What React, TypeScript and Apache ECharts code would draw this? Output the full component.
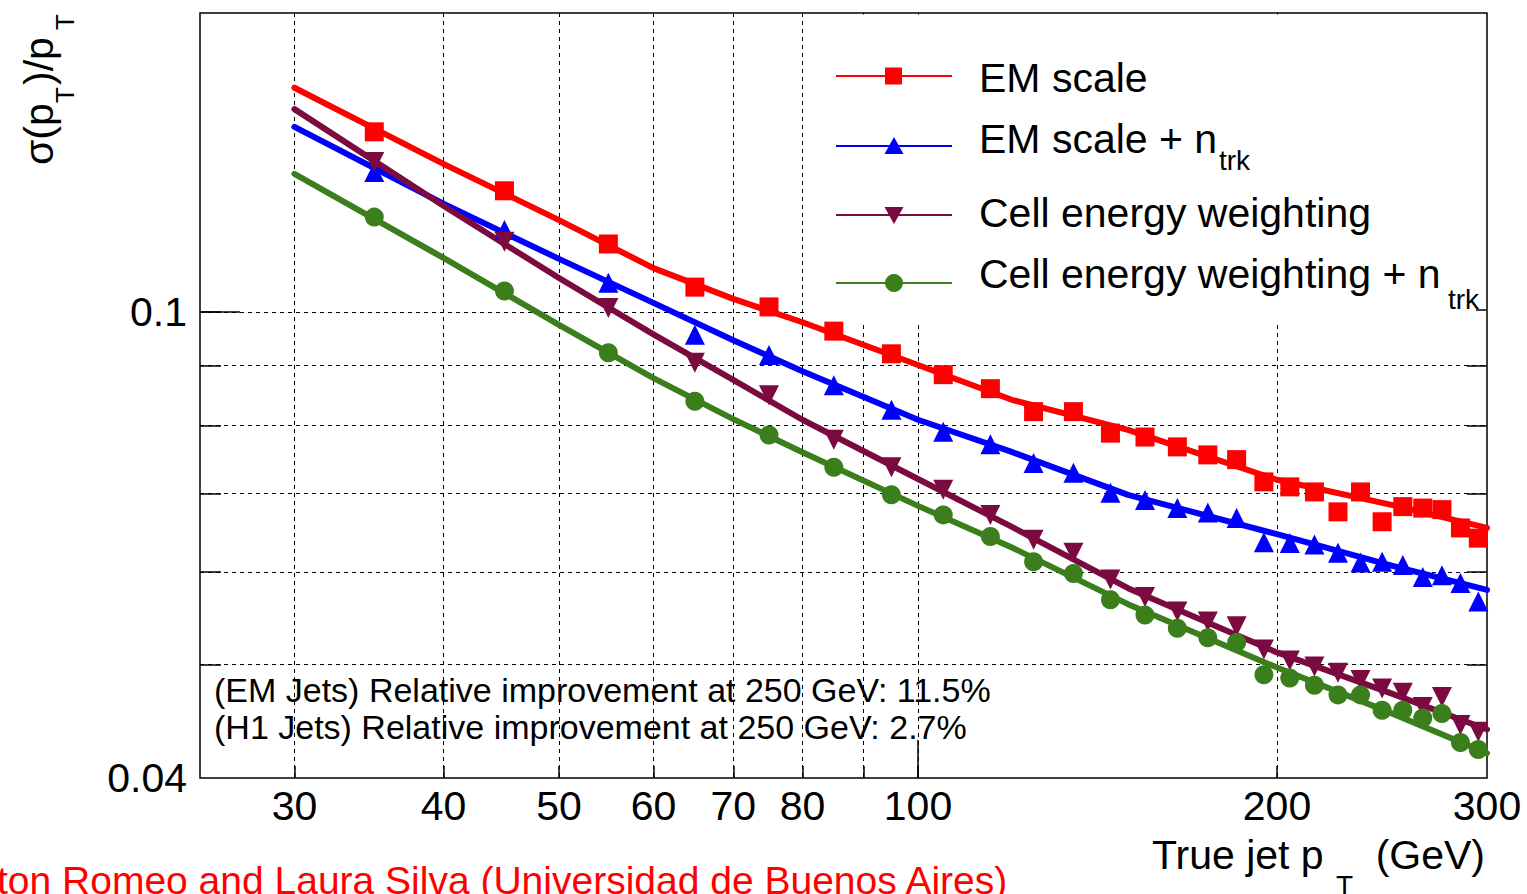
import React, { useEffect, useRef } from "react";
import * as echarts from "echarts";

// ---- data ----
const ptBins = [35, 45, 55, 65, 75, 85, 95, 105, 115, 125, 135, 145, 155, 165, 175, 185, 195, 205, 215, 225, 235, 245, 255, 265, 275, 285, 295];
const emScale = [0.1425, 0.1269, 0.1143, 0.1050, 0.1010, 0.0963, 0.0921, 0.0884, 0.0860, 0.0822, 0.0822, 0.0788, 0.0782, 0.0767, 0.0755, 0.0748, 0.0716, 0.0709, 0.0702, 0.0675, 0.0702, 0.0662, 0.0682, 0.0680, 0.0678, 0.0654, 0.0641];
const emScaleNtrk = [0.1317, 0.1175, 0.1059, 0.0956, 0.0919, 0.0866, 0.0825, 0.0790, 0.0771, 0.0743, 0.0729, 0.0701, 0.0691, 0.0680, 0.0674, 0.0667, 0.0636, 0.0635, 0.0633, 0.0623, 0.0611, 0.0612, 0.0608, 0.0594, 0.0596, 0.0587, 0.0566];
const cellWeighting = [0.1343, 0.1148, 0.1008, 0.0905, 0.0849, 0.0778, 0.0737, 0.0705, 0.0671, 0.0639, 0.0623, 0.0591, 0.0571, 0.0555, 0.0544, 0.0539, 0.0515, 0.0504, 0.0498, 0.0492, 0.0485, 0.0477, 0.0473, 0.0460, 0.0469, 0.0444, 0.0438];
const cellWeightingNtrk = [0.1205, 0.1042, 0.0923, 0.0839, 0.0785, 0.0737, 0.0698, 0.0671, 0.0643, 0.0612, 0.0598, 0.0568, 0.0551, 0.0537, 0.0527, 0.0522, 0.0490, 0.0487, 0.0480, 0.0471, 0.0471, 0.0457, 0.0457, 0.0450, 0.0454, 0.0429, 0.0423];

const fitPt = [30, 40, 50, 60, 70, 80, 100, 120, 150, 200, 250, 300];
const emScaleFit = [0.1554, 0.1338, 0.1198, 0.1090, 0.1026, 0.0980, 0.0901, 0.0841, 0.0793, 0.0719, 0.0684, 0.0654];
const emScaleNtrkFit = [0.1439, 0.1237, 0.1110, 0.1018, 0.0946, 0.0890, 0.0809, 0.0759, 0.0698, 0.0646, 0.0607, 0.0579];
const cellWeightingFit = [0.1490, 0.1232, 0.1069, 0.0957, 0.0875, 0.0809, 0.0720, 0.0655, 0.0581, 0.0512, 0.0472, 0.0440];
const cellWeightingNtrkFit = [0.1312, 0.1112, 0.0975, 0.0878, 0.0810, 0.0759, 0.0683, 0.0629, 0.0563, 0.0497, 0.0454, 0.0420];

const xRange = [25, 300];
const yRange = [0.04, 0.18];
const xTickValues = [30, 40, 50, 60, 70, 80, 90, 100, 200];
const xMajorTicks = [100];
const xLabelValues = [30, 40, 50, 60, 70, 80, 100, 200, 300];
const yTickValues = [0.05, 0.06, 0.07, 0.08, 0.09, 0.1];
const yMajorTicks = [0.1];
const yLabelValues = [0.04, 0.1];

const seriesNames = ["EM scale", "EM scale + n", "Cell energy weighting", "Cell energy weighting + n"];
const annotations = [
  "(EM Jets) Relative improvement at 250 GeV: 11.5%",
  "(H1 Jets) Relative improvement at 250 GeV: 2.7%",
];
const credit = "ton Romeo and Laura Silva (Universidad de Buenos Aires)";

const RED = "#ff0000";
const BLUE = "#0000ff";
const MAROON = "#7b0a40";
const GREEN = "#3a7f1c";
const FONT = "'Liberation Sans', Arial, Helvetica, sans-serif";

const lg = (v: number) => Math.log10(v);
const pts = (xs: number[], ys: number[]) => xs.map((x, i) => [lg(x), lg(ys[i])]);

const tickStyle = { color: "#000", width: 1.5 };

function txt(text: string, x: number, y: number, size: number, opts: any = {}) {
  return {
    type: "text",
    x,
    y,
    z: 6,
    style: {
      text,
      fontSize: size,
      fontFamily: FONT,
      fill: opts.fill || "#000",
      align: opts.align || "left",
      textAlign: opts.align || "left",
      verticalAlign: "middle",
      textVerticalAlign: "middle",
    },
  };
}

function buildOption() {
  const xMin = lg(xRange[0]);
  const xMax = lg(xRange[1]);
  const yMin = lg(yRange[0]);
  const yMax = lg(yRange[1]);

  const fitLine = (name: string, ys: number[], color: string) => ({
    name,
    type: "line",
    data: pts(fitPt, ys),
    showSymbol: false,
    symbol: "none",
    smooth: false,
    lineStyle: { color, width: 6, join: "round", cap: "round" },
    itemStyle: { color },
    z: 2,
  });
  const markers = (name: string, ys: number[], color: string, symbol: string, size: number, rotate = 0) => ({
    name,
    type: "scatter",
    data: pts(ptBins, ys),
    symbol,
    symbolSize: size,
    symbolRotate: rotate,
    itemStyle: { color, opacity: 1 },
    z: 3,
  });

  const legendRows = [
    { y: 76, color: RED },
    { y: 146, color: BLUE },
    { y: 215, color: MAROON },
    { y: 283, color: GREEN },
  ];
  const legendElems: any[] = [
    { type: "rect", z: 1, shape: { x: 808, y: 14.5, width: 678, height: 307 }, style: { fill: "#fff" } },
    { type: "line", z: 5, shape: { x1: 1476, y1: 310, x2: 1486.5, y2: 310 }, style: { stroke: "#000", lineWidth: 1.5 } },
  ];
  legendRows.forEach((r) => {
    legendElems.push({ type: "line", z: 5, shape: { x1: 836, y1: r.y, x2: 952, y2: r.y }, style: { stroke: r.color, lineWidth: 2 } });
  });
  legendElems.push({ type: "rect", z: 6, shape: { x: 885, y: 67.5, width: 17, height: 17 }, style: { fill: RED } });
  legendElems.push({ type: "polygon", z: 6, shape: { points: [[894, 137], [903.5, 154], [884.5, 154]] }, style: { fill: BLUE } });
  legendElems.push({ type: "polygon", z: 6, shape: { points: [[884.5, 207], [903.5, 207], [894, 224]] }, style: { fill: MAROON } });
  legendElems.push({ type: "circle", z: 6, shape: { cx: 894, cy: 283, r: 9 }, style: { fill: GREEN } });

  legendElems.push(txt(seriesNames[0], 979, 78, 41));
  legendElems.push(txt(seriesNames[1], 979, 139, 41));
  legendElems.push(txt("trk", 1219, 160, 28));
  legendElems.push(txt(seriesNames[2], 979, 213, 41));
  legendElems.push(txt(seriesNames[3], 979, 274, 41));
  legendElems.push(txt("trk", 1448, 299, 28));

  const otherTexts: any[] = [
    txt(annotations[0], 214, 690, 34),
    txt(annotations[1], 214, 727, 34),
    txt("True jet p", 1152, 855, 41),
    txt("T", 1336, 885, 28),
    txt("(GeV)", 1485, 855, 41, { align: "right" }),
    txt(credit, -3, 880, 39, { fill: RED }),
    {
      type: "group",
      x: 39,
      y: 165,
      rotation: Math.PI / 2,
      children: [
        txt("\u03c3(p", 0, 0, 41),
        txt("T", 62, 26, 26),
        txt(")/p", 80, 0, 41),
        txt("T", 135, 26, 26),
      ],
    },
  ];

  return {
    animation: false,
    backgroundColor: "#ffffff",
    grid: {
      left: 200,
      right: 40,
      top: 13,
      bottom: 116,
      show: true,
      borderColor: "#000",
      borderWidth: 1.5,
      backgroundColor: "transparent",
    },
    xAxis: [
      {
        type: "value",
        min: xMin,
        max: xMax,
        position: "bottom",
        axisLine: { show: false },
        axisTick: { show: true, inside: true, length: 12, customValues: xTickValues.map(lg), lineStyle: tickStyle },
        axisLabel: {
          customValues: xLabelValues.map(lg),
          formatter: (v: number) => String(Math.round(Math.pow(10, v))),
          fontSize: 41,
          color: "#000",
          fontFamily: FONT,
          margin: 7,
        },
        splitLine: { show: true, lineStyle: { color: "#000", width: 1, type: [4, 4] } },
      },
      {
        type: "value",
        min: xMin,
        max: xMax,
        position: "bottom",
        axisLine: { show: false },
        axisTick: { show: true, inside: true, length: 38, customValues: xMajorTicks.map(lg), lineStyle: tickStyle },
        axisLabel: { show: false },
        splitLine: { show: false },
      },
    ],
    yAxis: [
      {
        type: "value",
        min: yMin,
        max: yMax,
        position: "left",
        axisLine: { show: false },
        axisTick: { show: true, inside: true, length: 21, customValues: yTickValues.map(lg), lineStyle: tickStyle },
        axisLabel: {
          customValues: yLabelValues.map(lg),
          formatter: (v: number) => String(Number(Math.pow(10, v).toPrecision(2))),
          fontSize: 41,
          color: "#000",
          fontFamily: FONT,
          margin: 13,
        },
        splitLine: { show: true, lineStyle: { color: "#000", width: 1, type: [4, 4] } },
      },
      {
        type: "value",
        min: yMin,
        max: yMax,
        position: "left",
        axisLine: { show: false },
        axisTick: { show: true, inside: true, length: 40, customValues: yMajorTicks.map(lg), lineStyle: tickStyle },
        axisLabel: { show: false },
        splitLine: { show: false },
      },
      {
        type: "value",
        min: yMin,
        max: yMax,
        position: "right",
        axisLine: { show: false },
        axisTick: { show: true, inside: true, length: 20, customValues: yTickValues.filter((v) => v < 0.1).map(lg), lineStyle: tickStyle },
        axisLabel: { show: false },
        splitLine: { show: false },
      },
    ],
    series: [
      fitLine(seriesNames[0] + " fit", emScaleFit, RED),
      fitLine(seriesNames[1] + " fit", emScaleNtrkFit, BLUE),
      fitLine(seriesNames[2] + " fit", cellWeightingFit, MAROON),
      fitLine(seriesNames[3] + " fit", cellWeightingNtrkFit, GREEN),
      markers(seriesNames[0], emScale, RED, "rect", 19),
      markers(seriesNames[1], emScaleNtrk, BLUE, "triangle", 20),
      markers(seriesNames[2], cellWeighting, MAROON, "triangle", 20, 180),
      markers(seriesNames[3], cellWeightingNtrk, GREEN, "circle", 19),
    ],
    graphic: { elements: [...legendElems, ...otherTexts] },
  };
}

export default function App() {
  const ref = useRef<HTMLDivElement>(null);
  useEffect(() => {
    if (!ref.current) return;
    const chart = echarts.init(ref.current, null, { renderer: "svg" });
    chart.setOption(buildOption() as any);
    return () => chart.dispose();
  }, []);
  return (
    <div
      ref={ref}
      style={{ position: "absolute", left: 0, top: 0, width: 1527, height: 894, background: "#fff" }}
    />
  );
}
